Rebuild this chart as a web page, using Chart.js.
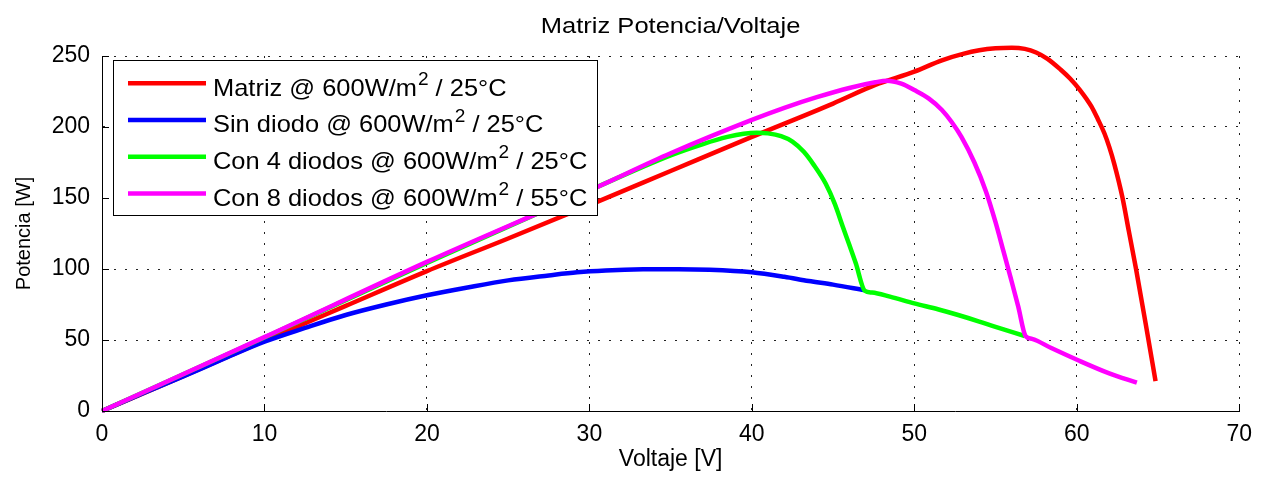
<!DOCTYPE html>
<html>
<head>
<meta charset="utf-8">
<script src="https://cdn.jsdelivr.net/npm/chart.js@4.4.0/dist/chart.umd.min.js"></script>
<style>
    html, body { margin: 0; padding: 0; background: #fff; }
    #wrap { width: 1262px; height: 478px; }
</style>
</head>
<body>
<div id="wrap"><canvas id="pv-chart" width="1262" height="478"></canvas></div>
<script>
var chartTitle = 'Matriz Potencia/Voltaje';
var xTitle = 'Voltaje [V]';
var yTitle = 'Potencia [W]';
var xTicks = [0, 10, 20, 30, 40, 50, 60, 70];
var yTicks = [0, 50, 100, 150, 200, 250];

var seriesLabels = [
    'Matriz @ 600W/m² / 25°C',
    'Sin diodo @ 600W/m² / 25°C',
    'Con 4 diodos @ 600W/m² / 25°C',
    'Con 8 diodos @ 600W/m² / 55°C'
];
var seriesColors = ['#ff0000', '#0000ff', '#00ff00', '#ff00ff'];

// Matriz @ 25C
var matrizV = [0, 5, 10, 15, 20, 25, 30, 35, 40, 45, 47.6, 50, 51.7, 53, 54, 55, 56, 56.8, 57.5, 58.2, 59, 59.6, 60.2, 60.9, 61.3, 61.7, 62, 62.3, 62.8, 63.2, 63.65, 64.25, 64.85];
var matrizP = [0, 24.5, 49.5, 74, 98.5, 121.5, 145, 169, 193, 216.5, 229.6, 239, 247, 251.5, 254, 255.4, 255.8, 255, 252.5, 248, 240.5, 234, 226, 214.5, 205.5, 195.6, 186, 174.4, 151, 127, 100, 61, 21];

// sin diodo
var sinDiodoV = [0, 2.5, 5, 7.5, 10, 12.5, 15, 17.5, 20, 22.5, 25, 27.5, 29.25, 31, 33.3, 35.5, 37.4, 40, 42, 43.5, 45, 46.9];
var sinDiodoP = [0, 12.3, 24.3, 36.8, 48.8, 58.5, 67.6, 75, 81.5, 87, 92, 95.5, 97.7, 99, 99.8, 99.9, 99.5, 97.7, 94.5, 91.5, 89, 85.2];

// 4 diodos
var cuatroV = [0, 10, 20, 30, 35, 37, 38.5, 39.5, 40.3, 41, 41.8, 42.5, 43.2, 43.8, 44.55, 45.1, 45.6, 46, 46.4, 46.95, 47.4, 48.5, 50, 51.5, 52.7, 54, 54.95, 56.8];
var cuatroP = [0, 51.8, 104.3, 155.3, 180, 188, 193, 195.3, 196, 195.5, 193.5, 189.7, 182.5, 173.5, 160, 146, 129.8, 117, 104, 84.7, 83.4, 80.5, 75.8, 71.5, 67.6, 63, 59.4, 52.8];

// 8 diodos @ 55C
var ochoV = [0, 10, 20, 30.3, 35, 40, 42, 44, 46, 47.6, 48.3, 49.2, 50, 50.9, 51.7, 52.3, 52.9, 53.7, 54.4, 55, 55.5, 55.95, 56.4, 56.85, 57.25, 58.4, 60.05, 62, 63.7];
var ochoP = [0, 52, 105, 156.8, 181.5, 205, 213.5, 221, 227.5, 231.5, 232.6, 230.5, 226, 220, 212, 203.5, 193, 175, 155, 133, 112, 93, 73.5, 52.8, 50.8, 44.5, 35.9, 26.5, 19.9];

var fontFamily = '"Liberation Sans", Arial, Helvetica, sans-serif';

var toPoints = function (xs, ys) {
    return xs.map(function (x, i) { return { x: x, y: ys[i] }; });
};

var makeSet = function (i, xs, ys) {
    return {
        label: seriesLabels[i],
        data: toPoints(xs, ys),
        borderColor: seriesColors[i],
        backgroundColor: seriesColors[i],
        borderWidth: 4.5,
        borderJoinStyle: 'round',
        borderCapStyle: 'butt',
        pointRadius: 0,
        fill: false,
        cubicInterpolationMode: 'monotone',
        clip: false,      // the red peak goes over the 250 line
        order: 4 - i      // later series on top, like matlab
    };
};

// draw text a bit wider, the source image is stretched sideways
var wideText = function (ctx, txt, x, y, sx) {
    ctx.save();
    ctx.translate(x, y);
    ctx.scale(sx, 1);
    ctx.fillText(txt, 0, 0);
    ctx.restore();
    return ctx.measureText(txt).width * sx;
};

// title, inward ticks and the boxed legend, drawn the matlab way
var matlabDecor = {
    id: 'matlabDecor',
    beforeDraw: function (chart) {
        var ctx = chart.ctx;
        ctx.save();
        ctx.fillStyle = '#fff';
        ctx.fillRect(0, 0, chart.width, chart.height);
        ctx.restore();
    },
    afterDatasetsDraw: function (chart) {
        var ctx = chart.ctx;
        var xs = chart.scales.x, ys = chart.scales.y;
        var area = chart.chartArea;

        ctx.save();
        ctx.strokeStyle = '#000';
        ctx.lineWidth = 1;
        ctx.beginPath();
        xTicks.forEach(function (v) {
            var px = Math.round(xs.getPixelForValue(v)) + 0.5;
            ctx.moveTo(px, area.bottom);
            ctx.lineTo(px, area.bottom - 7);
        });
        yTicks.forEach(function (v) {
            var py = Math.round(ys.getPixelForValue(v)) + 0.5;
            ctx.moveTo(area.left, py);
            ctx.lineTo(area.left + 7, py);
        });
        ctx.stroke();

        // legend
        var bx = 113.5, by = 60.5, bw = 484, bh = 155;
        ctx.fillStyle = '#fff';
        ctx.fillRect(bx, by, bw, bh);
        ctx.strokeRect(bx, by, bw, bh);

        seriesLabels.forEach(function (lab, i) {
            var ly = 83.3 + i * 36.7;
            ctx.strokeStyle = seriesColors[i];
            ctx.lineWidth = 4.5;
            ctx.beginPath();
            ctx.moveTo(128, ly);
            ctx.lineTo(206, ly);
            ctx.stroke();

            var parts = lab.split('²');
            var base = ly + 12.4;
            var tx = 213;
            ctx.fillStyle = '#000';
            ctx.textBaseline = 'alphabetic';
            ctx.textAlign = 'left';
            ctx.font = '24px ' + fontFamily;
            tx += wideText(ctx, parts[0], tx, base, 1.06) + 1;
            ctx.font = '18px ' + fontFamily;
            tx += wideText(ctx, '2', tx, base - 10.7, 1.06);
            ctx.font = '24px ' + fontFamily;
            wideText(ctx, parts[1], tx, base, 1.06);
        });
        ctx.restore();
    },
    afterDraw: function (chart) {
        var ctx = chart.ctx;
        var area = chart.chartArea;
        ctx.save();
        ctx.fillStyle = '#000';
        ctx.font = '22px ' + fontFamily;
        ctx.textAlign = 'left';
        ctx.textBaseline = 'alphabetic';
        var w = ctx.measureText(chartTitle).width * 1.16;
        wideText(ctx, chartTitle, (area.left + area.right) / 2 - w / 2, 33, 1.16);
        ctx.restore();
    }
};

var gridLook = { color: '#222', lineWidth: 1, drawTicks: false, tickLength: 0 };
var borderLook = { display: true, color: '#000', width: 1, dash: [2, 9] };

var PVChart = new Chart('pv-chart', {
    type: 'line',
    data: {
        datasets: [
            makeSet(0, matrizV, matrizP),
            makeSet(1, sinDiodoV, sinDiodoP),
            makeSet(2, cuatroV, cuatroP),
            makeSet(3, ochoV, ochoP)
        ]
    },
    options: {
        responsive: false,
        animation: false,
        layout: { padding: { top: 56, right: 16, left: 0, bottom: 0 } },
        plugins: {
            legend: { display: false },
            tooltip: { enabled: false },
            title: { display: false }
        },
        scales: {
            x: {
                type: 'linear',
                min: 0,
                max: 70,
                afterBuildTicks: function (s) { s.ticks = xTicks.map(function (v) { return { value: v }; }); },
                afterFit: function (s) { s.height = 67; },
                grid: gridLook,
                border: borderLook,
                ticks: { color: '#000', padding: 10, maxRotation: 0, autoSkip: false, font: { family: fontFamily, size: 23 } },
                title: { display: true, text: xTitle, color: '#000', padding: { top: 0, bottom: 5 }, font: { family: fontFamily, size: 23 } }
            },
            y: {
                type: 'linear',
                min: 0,
                max: 250,
                afterBuildTicks: function (s) { s.ticks = yTicks.map(function (v) { return { value: v }; }); },
                afterFit: function (s) { s.width = 102; },
                grid: gridLook,
                border: borderLook,
                ticks: { color: '#000', padding: 12, autoSkip: false, font: { family: fontFamily, size: 23 } },
                title: { display: true, text: yTitle, color: '#000', padding: { top: 12, bottom: 0 }, font: { family: fontFamily, size: 20 } }
            }
        }
    },
    plugins: [matlabDecor]
});
</script>
</body>
</html>
